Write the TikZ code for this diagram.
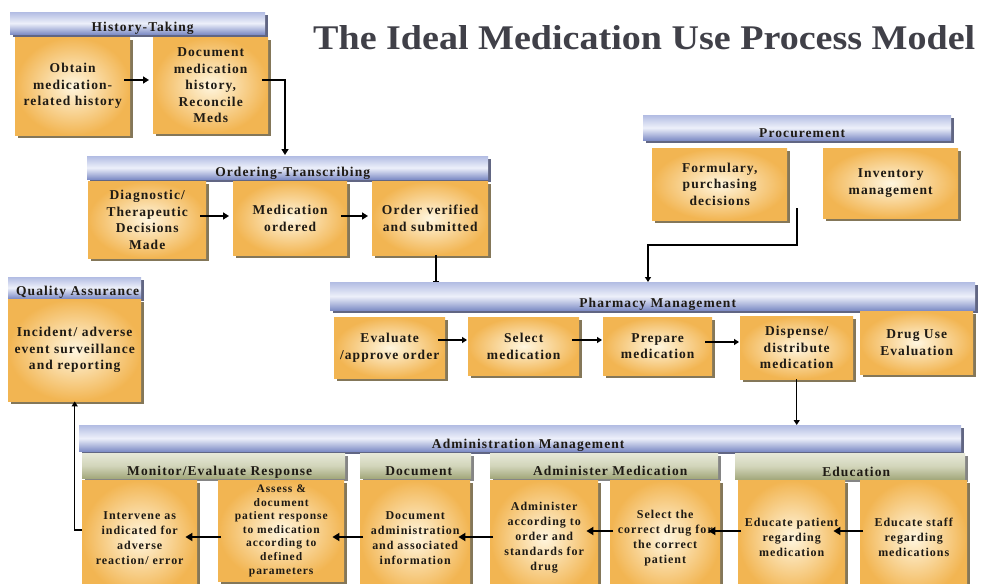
\documentclass[tikz,border=0pt]{standalone}
\usepackage{graphicx}
\usepackage{fontspec}
\setmainfont{Liberation Serif}
\newfontfamily\boxfont[LetterSpace=8]{Liberation Serif}
\usetikzlibrary{shadows,arrows.meta,calc}
\definecolor{boxin}{HTML}{FFF6DF}
\definecolor{boxout}{HTML}{F2B552}
\definecolor{shad}{HTML}{6E5F3C}
\definecolor{bluetop}{HTML}{B3BDE3}
\definecolor{bluemid}{HTML}{EDF0FA}
\definecolor{bluebot}{HTML}{7F8DC6}
\definecolor{bshad}{HTML}{3A4064}
\definecolor{greentop}{HTML}{E6E8D8}
\definecolor{greenmid}{HTML}{D2D5BA}
\definecolor{greenbot}{HTML}{A3A87C}
\definecolor{titlec}{HTML}{404048}
\definecolor{txt}{HTML}{1E1A14}
\begin{document}
\begin{tikzpicture}[x=1pt,y=-1pt,
  pbox/.style={rectangle, inner sep=1pt, align=center, inner color=boxin, outer color=boxout,
     drop shadow={shadow xshift=3pt, shadow yshift=-3pt, fill=shad, opacity=0.85},
     font=\boxfont\bfseries\fontsize{13.5}{16.5}\selectfont, text=txt, anchor=north west},
  lbox/.style={pbox, font=\boxfont\bfseries\fontsize{12}{15}\selectfont},
  bluehdr/.style={rectangle, inner sep=0pt, top color=bluetop, bottom color=bluebot, middle color=bluemid,
     drop shadow={shadow xshift=3pt, shadow yshift=-3pt, fill=bshad, opacity=0.8}, anchor=north west},
  greenhdr/.style={rectangle, inner sep=0pt, top color=greentop, bottom color=greenbot, middle color=greenmid,
     drop shadow={shadow xshift=3pt, shadow yshift=-3pt, fill=black!60, opacity=0.8}, anchor=north west},
  hlabel/.style={inner sep=0pt, anchor=base, font=\boxfont\bfseries\fontsize{13.5}{15}\selectfont, text=txt},
  arrA/.style={line width=2pt, -{Triangle[length=6pt,width=7pt]}, shorten <=-6pt, shorten >=4pt},
  arrB/.style={line width=1.4pt, -{Triangle[length=5pt,width=6pt]}},
  arrC/.style={line width=2.5pt, -{Triangle[length=7pt,width=8pt]}, shorten <=-3pt, shorten >=-12pt},
  conn/.style={line width=1.4pt}
]
\useasboundingbox (0,0) rectangle (981,583);
\begin{scope}
\clip (0,0) rectangle (981,583);

% title
\node[anchor=base west, inner sep=0pt, text=titlec] (title) at (313,50)
  {\resizebox{662pt}{24pt}{\bfseries The Ideal Medication Use Process Model}};

% ---------- headers ----------
\node[bluehdr, minimum width=255pt, minimum height=22pt] (hth) at (10,12) {};
\node[bluehdr, minimum width=401pt, minimum height=23pt] (ordh) at (87,156) {};
\node[bluehdr, minimum width=308pt, minimum height=25pt] (proch) at (643,115) {};
\node[bluehdr, minimum width=133pt, minimum height=21pt] (qah) at (8,277) {};
\node[bluehdr, minimum width=645pt, minimum height=28pt] (pharmh) at (330,282) {};
\node[bluehdr, minimum width=882pt, minimum height=26pt] (adminh) at (79,425) {};

\node[hlabel] (hthl) at ([xshift=5pt,yshift=2.5pt]hth.south) {History-Taking};
\node[hlabel] (ordhl) at ([xshift=5pt,yshift=2.5pt]ordh.south) {Ordering-Transcribing};
\node[hlabel] (prochl) at ([xshift=5pt,yshift=2.5pt]proch.south) {Procurement};
\node[hlabel] (qahl) at ([xshift=3pt,yshift=2.5pt]qah.south) {Quality Assurance};
\node[hlabel] (pharmhl) at ([xshift=5pt,yshift=2.5pt]pharmh.south) {Pharmacy Management};
\node[hlabel] (adminhl) at ([xshift=8pt,yshift=2.5pt]adminh.south) {Administration Management};

\node[greenhdr, minimum width=263pt, minimum height=25pt] (monh) at (82,453) {};
\node[greenhdr, minimum width=111pt, minimum height=25pt] (doch) at (360,453) {};
\node[greenhdr, minimum width=228pt, minimum height=25pt] (admmh) at (490,453) {};
\node[greenhdr, minimum width=230pt, minimum height=26pt] (eduh) at (735,453) {};

\node[hlabel] (monhl) at ([xshift=6pt,yshift=2.5pt]monh.south) {Monitor/Evaluate Response};
\node[hlabel] (dochl) at ([xshift=3pt,yshift=2.5pt]doch.south) {Document};
\node[hlabel] (admmhl) at ([xshift=6pt,yshift=2.5pt]admmh.south) {Administer Medication};
\node[hlabel] (eduhl) at ([xshift=6pt,yshift=2.5pt]eduh.south) {Education};

% ---------- boxes ----------
\node[pbox, minimum width=115pt, minimum height=98pt] (obtain) at (15,37) {Obtain\\medication-\\related history};
\node[pbox, minimum width=115pt, minimum height=96pt] (doc) at (153,37) {Document\\medication\\history,\\Reconcile\\Meds};

\node[pbox, minimum width=118pt, minimum height=77pt] (diag) at (88,181) {Diagnostic/\\Therapeutic\\Decisions\\Made};
\node[pbox, minimum width=114pt, minimum height=74pt] (medord) at (233,181) {Medication\\ordered};
\node[pbox, minimum width=116pt, minimum height=74pt] (ordver) at (372,181) {Order verified\\and submitted};

\node[pbox, minimum width=135pt, minimum height=72pt] (form) at (652,148) {Formulary,\\purchasing\\decisions};
\node[pbox, minimum width=135pt, minimum height=70pt] (inv) at (823,148) {Inventory\\management};

\node[pbox, minimum width=133pt, minimum height=102pt] (qa) at (8,299) {Incident/ adverse\\event surveillance\\and reporting};

\node[pbox, minimum width=111pt, minimum height=61pt] (eval) at (334,317) {Evaluate\\/approve order};
\node[pbox, minimum width=111pt, minimum height=58pt] (sel) at (468,317) {Select\\medication};
\node[pbox, minimum width=109pt, minimum height=58pt] (prep) at (603,317) {Prepare\\medication};
\node[pbox, minimum width=113pt, minimum height=63pt] (disp) at (740,316) {Dispense/\\distribute\\medication};
\node[pbox, minimum width=113pt, minimum height=63pt] (due) at (860,311) {Drug Use\\Evaluation};

\node[lbox, minimum width=115pt, minimum height=115pt] (interv) at (82,480) {Intervene as\\indicated for\\adverse\\reaction/ error};
\node[lbox, minimum width=126pt, minimum height=101pt, font=\boxfont\bfseries\fontsize{11.5}{13.6}\selectfont] (assess) at (218,480) {Assess \&\\document\\patient response\\to medication\\according to\\defined\\parameters};
\node[lbox, minimum width=110pt, minimum height=115pt] (docadm) at (360,480) {Document\\administration\\and associated\\information};
\node[lbox, minimum width=108pt, minimum height=115pt] (adm) at (490,480) {Administer\\according to\\order and\\standards for\\drug};
\node[lbox, minimum width=110pt, minimum height=115pt] (selc) at (610,480) {Select the\\correct drug for\\the correct\\patient};
\node[lbox, minimum width=107pt, minimum height=115pt] (edup) at (738,480) {Educate patient\\regarding\\medication};
\node[lbox, minimum width=107pt, minimum height=115pt] (edus) at (860,480) {Educate staff\\regarding\\medications};

% ---------- connectors ----------
\draw[arrA] (obtain.east |- 0,80) -- (doc.west |- 0,80);
\draw[line width=2pt, -{Triangle[length=6pt,width=7pt]}, shorten <=-6pt, shorten >=1pt]
  (doc.east |- 0,80) -| (ordh.north -| 285,0);
\draw[arrA] (diag.east |- 0,216) -- (medord.west |- 0,216);
\draw[arrA] (medord.east |- 0,216) -- (ordver.west |- 0,216);
\draw[conn, -{Bar[width=6pt]}] (ordver.south -| 436,0) -- (pharmh.north -| 436,0);

\coordinate (formout) at (797,208);
\draw[arrB] (formout) -- (797,245) -| (pharmh.north -| 648,0);

\draw[arrB, shorten <=-7pt, shorten >=1pt] (eval.east |- 0,340) -- (sel.west |- 0,340);
\draw[arrB, shorten <=-7pt, shorten >=1pt] (sel.east |- 0,340) -- (prep.west |- 0,340);
\draw[arrB, shorten <=-7pt, shorten >=1pt] (prep.east |- 0,342) -- (disp.west |- 0,342);
\draw[arrB] (disp.south) -- (disp.south |- adminh.north);

\draw[arrC] (edus.west |- 0,531) -- (edup.east |- 0,531);
\draw[arrC] (edup.west |- 0,531) -- (selc.east |- 0,531);
\draw[arrC] (selc.west |- 0,531) -- (adm.east |- 0,531);
\draw[arrC] (adm.west |- 0,537) -- (docadm.east |- 0,537);
\draw[arrC] (docadm.west |- 0,537) -- (assess.east |- 0,537);
\draw[arrC] (assess.west |- 0,537) -- (interv.east |- 0,537);
\draw[arrB] (interv.west |- 0,530) -| (qa.south);
\end{scope}
\end{tikzpicture}
\end{document}
